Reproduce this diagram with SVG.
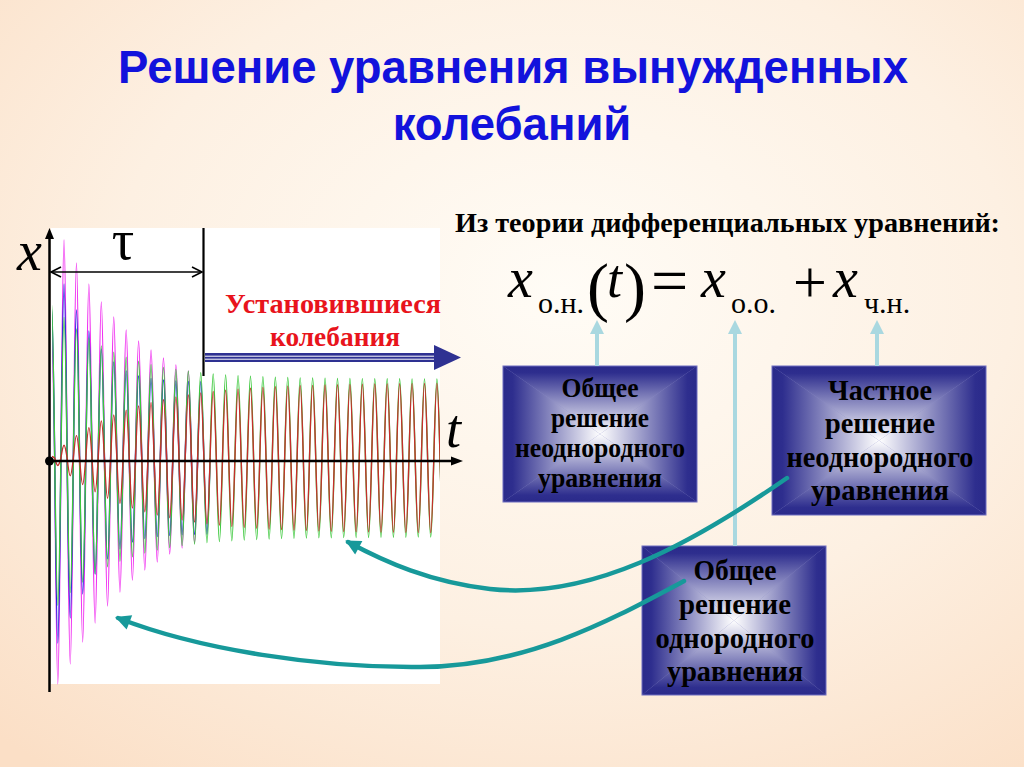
<svg xmlns="http://www.w3.org/2000/svg" width="1024" height="767" viewBox="0 0 1024 767">
<defs>
<radialGradient id="bg" cx="0.55" cy="0.38" r="0.8">
<stop offset="0" stop-color="#fffcf6"/>
<stop offset="0.55" stop-color="#fdf0e2"/>
<stop offset="1" stop-color="#fbdfc6"/>
</radialGradient>
<linearGradient id="gT" x1="0" y1="0" x2="0" y2="1"><stop offset="0" stop-color="#2a2a8a"/><stop offset="0.1" stop-color="#2e2e8e"/><stop offset="1" stop-color="#ffffff"/></linearGradient>
<linearGradient id="gB" x1="0" y1="1" x2="0" y2="0"><stop offset="0" stop-color="#2a2a8a"/><stop offset="0.1" stop-color="#2e2e8e"/><stop offset="1" stop-color="#ffffff"/></linearGradient>
<linearGradient id="gL" x1="0" y1="0" x2="1" y2="0"><stop offset="0" stop-color="#2a2a8a"/><stop offset="0.1" stop-color="#2e2e8e"/><stop offset="1" stop-color="#ffffff"/></linearGradient>
<linearGradient id="gR" x1="1" y1="0" x2="0" y2="0"><stop offset="0" stop-color="#2a2a8a"/><stop offset="0.1" stop-color="#2e2e8e"/><stop offset="1" stop-color="#ffffff"/></linearGradient>
<clipPath id="plotclip"><rect x="52" y="226" width="388" height="460"/></clipPath>
<marker id="tealhead" viewBox="0 0 10 10" refX="8" refY="5" markerWidth="3.6" markerHeight="3.4" orient="auto">
<path d="M0,0 L10,5 L0,10 z" fill="#17999a"/>
</marker>
<style>
.title{font-family:"Liberation Sans",Arial,sans-serif;font-weight:bold;font-size:45.5px;fill:#1212dc;text-anchor:middle}
.serif{font-family:"Liberation Serif","Times New Roman",serif}
.it{font-family:"Liberation Serif","Times New Roman",serif;font-style:italic}
.boxtxt{font-family:"Liberation Serif","Times New Roman",serif;font-weight:bold;fill:#000;text-anchor:middle}
.red{font-family:"Liberation Serif","Times New Roman",serif;font-weight:bold;font-size:28px;fill:#e8141c;text-anchor:middle}
.crv{fill:none;stroke-width:1.4;stroke-linejoin:round}
.lb{stroke:#a9d8e0;stroke-width:4;fill:none}
.lbh{fill:#a9d8e0}
.teal{stroke:#17999a;stroke-width:4.5;fill:none;stroke-linecap:round}
.ax{stroke:#000;fill:none}
</style>
</defs>

<rect x="0" y="0" width="1024" height="767" fill="url(#bg)"/>

<g id="title">
<text class="title" x="513" y="83">Решение уравнения вынужденных</text>
<text class="title" x="512" y="140">колебаний</text>
</g>

<g id="plot">
<rect x="51" y="228" width="389" height="456" fill="#ffffff"/>
<g clip-path="url(#plotclip)">
<path class="crv" stroke="#f030f0" d="M48.49,458 c2.64,-160 3.58,-160 6.215,0 c2.64,301.3 3.58,301.3 6.215,0 c2.64,-290.7 3.58,-290.7 6.215,0 c2.64,274.7 3.58,274.7 6.215,0 c2.64,-260 3.58,-260 6.215,0 c2.64,245.3 3.58,245.3 6.215,0 c2.64,-232 3.58,-232 6.215,0 c2.64,220 3.58,220 6.215,0 c2.64,-208 3.58,-208 6.215,0 c2.64,197.3 3.58,197.3 6.215,0 c2.64,-188 3.58,-188 6.215,0 c2.64,178.7 3.58,178.7 6.215,0 c2.64,-170.7 3.58,-170.7 6.215,0 c2.64,162.7 3.58,162.7 6.215,0 c2.64,-156 3.58,-156 6.215,0 c2.64,149.3 3.58,149.3 6.215,0 c2.64,-144 3.58,-144 6.215,0 c2.64,138.7 3.58,138.7 6.215,0 c2.64,-133.3 3.58,-133.3 6.215,0 c2.64,128 3.58,128 6.215,0 c2.64,-124 3.58,-124 6.215,0 c2.64,120 3.58,120 6.215,0 c2.64,-116 3.58,-116 6.215,0 c2.64,113.3 3.58,113.3 6.215,0"/>
<path class="crv" stroke="#2222dd" d="M48.49,458 c2.64,-200 3.58,-200 6.215,0 c2.64,246.7 3.58,246.7 6.215,0 c2.64,-232 3.58,-232 6.215,0 c2.64,213.3 3.58,213.3 6.215,0 c2.64,-197.3 3.58,-197.3 6.215,0 c2.64,181.3 3.58,181.3 6.215,0 c2.64,-169.3 3.58,-169.3 6.215,0 c2.64,154.7 3.58,154.7 6.215,0 c2.64,-145.3 3.58,-145.3 6.215,0 c2.64,134.7 3.58,134.7 6.215,0 c2.64,-128 3.58,-128 6.215,0 c2.64,121.3 3.58,121.3 6.215,0 c2.64,-116 3.58,-116 6.215,0 c2.64,112 3.58,112 6.215,0 c2.64,-109.3 3.58,-109.3 6.215,0 c2.64,107.3 3.58,107.3 6.215,0 c2.64,-106 3.58,-106 6.215,0 c2.64,104.7 3.58,104.7 6.215,0 c2.64,-104 3.58,-104 6.215,0 c2.64,103.3 3.58,103.3 6.215,0 c2.64,-102.7 3.58,-102.7 6.215,0 c2.64,102.4 3.58,102.4 6.215,0 c2.64,-102.1 3.58,-102.1 6.215,0 c2.64,101.9 3.58,101.9 6.215,0 c2.64,-101.7 3.58,-101.7 6.215,0 c2.64,101.5 3.58,101.5 6.215,0"/>
<path class="crv" stroke="#3cc83c" d="M48.49,458 c2.64,-206.7 3.58,-206.7 6.215,0 c2.64,196.4 3.58,196.4 6.215,0 c2.64,-187.5 3.58,-187.5 6.215,0 c2.64,179.3 3.58,179.3 6.215,0 c2.64,-172 3.58,-172 6.215,0 c2.64,165.5 3.58,165.5 6.215,0 c2.64,-159.6 3.58,-159.6 6.215,0 c2.64,154.3 3.58,154.3 6.215,0 c2.64,-149.5 3.58,-149.5 6.215,0 c2.64,145.1 3.58,145.1 6.215,0 c2.64,-141.2 3.58,-141.2 6.215,0 c2.64,137.6 3.58,137.6 6.215,0 c2.64,-134.4 3.58,-134.4 6.215,0 c2.64,131.6 3.58,131.6 6.215,0 c2.64,-129.1 3.58,-129.1 6.215,0 c2.64,126.7 3.58,126.7 6.215,0 c2.64,-124.5 3.58,-124.5 6.215,0 c2.64,122.7 3.58,122.7 6.215,0 c2.64,-120.9 3.58,-120.9 6.215,0 c2.64,119.5 3.58,119.5 6.215,0 c2.64,-118 3.58,-118 6.215,0 c2.64,116.8 3.58,116.8 6.215,0 c2.64,-115.7 3.58,-115.7 6.215,0 c2.64,114.7 3.58,114.7 6.215,0 c2.64,-113.7 3.58,-113.7 6.215,0 c2.64,112.9 3.58,112.9 6.215,0 c2.64,-112.1 3.58,-112.1 6.215,0 c2.64,111.5 3.58,111.5 6.215,0 c2.64,-110.9 3.58,-110.9 6.215,0 c2.64,110.4 3.58,110.4 6.215,0 c2.64,-109.9 3.58,-109.9 6.215,0 c2.64,109.5 3.58,109.5 6.215,0 c2.64,-109.1 3.58,-109.1 6.215,0 c2.64,108.7 3.58,108.7 6.215,0 c2.64,-108.3 3.58,-108.3 6.215,0 c2.64,108 3.58,108 6.215,0 c2.64,-107.7 3.58,-107.7 6.215,0 c2.64,107.5 3.58,107.5 6.215,0 c2.64,-107.3 3.58,-107.3 6.215,0 c2.64,107.1 3.58,107.1 6.215,0 c2.64,-106.9 3.58,-106.9 6.215,0 c2.64,106.8 3.58,106.8 6.215,0 c2.64,-106.7 3.58,-106.7 6.215,0 c2.64,106.5 3.58,106.5 6.215,0 c2.64,-106.4 3.58,-106.4 6.215,0 c2.64,106.3 3.58,106.3 6.215,0 c2.64,-106.1 3.58,-106.1 6.215,0 c2.64,106.1 3.58,106.1 6.215,0 c2.64,-106 3.58,-106 6.215,0 c2.64,106 3.58,106 6.215,0 c2.64,-105.9 3.58,-105.9 6.215,0 c2.64,105.9 3.58,105.9 6.215,0 c2.64,-105.7 3.58,-105.7 6.215,0 c2.64,105.7 3.58,105.7 6.215,0 c2.64,-105.7 3.58,-105.7 6.215,0 c2.64,105.6 3.58,105.6 6.215,0 c2.64,-105.6 3.58,-105.6 6.215,0 c2.64,105.6 3.58,105.6 6.215,0 c2.64,-105.5 3.58,-105.5 6.215,0 c2.64,105.5 3.58,105.5 6.215,0 c2.64,-105.5 3.58,-105.5 6.215,0 c2.64,105.5 3.58,105.5 6.215,0 c2.64,-105.3 3.58,-105.3 6.215,0 c2.64,105.3 3.58,105.3 6.215,0"/>
<path class="crv" stroke="#c4302c" d="M48.49,458 c2.64,-2.1 3.58,-2.1 6.215,0 c2.64,9.9 3.58,9.9 6.215,0 c2.64,-17.1 3.58,-17.1 6.215,0 c2.64,23.6 3.58,23.6 6.215,0 c2.64,-29.9 3.58,-29.9 6.215,0 c2.64,35.3 3.58,35.3 6.215,0 c2.64,-40.5 3.58,-40.5 6.215,0 c2.64,45.2 3.58,45.2 6.215,0 c2.64,-49.5 3.58,-49.5 6.215,0 c2.64,53.6 3.58,53.6 6.215,0 c2.64,-57.3 3.58,-57.3 6.215,0 c2.64,60.7 3.58,60.7 6.215,0 c2.64,-63.9 3.58,-63.9 6.215,0 c2.64,66.7 3.58,66.7 6.215,0 c2.64,-69.3 3.58,-69.3 6.215,0 c2.64,71.7 3.58,71.7 6.215,0 c2.64,-74 3.58,-74 6.215,0 c2.64,76.1 3.58,76.1 6.215,0 c2.64,-78 3.58,-78 6.215,0 c2.64,79.7 3.58,79.7 6.215,0 c2.64,-81.3 3.58,-81.3 6.215,0 c2.64,82.8 3.58,82.8 6.215,0 c2.64,-84.1 3.58,-84.1 6.215,0 c2.64,85.5 3.58,85.5 6.215,0 c2.64,-86.7 3.58,-86.7 6.215,0 c2.64,87.7 3.58,87.7 6.215,0 c2.64,-88.7 3.58,-88.7 6.215,0 c2.64,89.6 3.58,89.6 6.215,0 c2.64,-90.4 3.58,-90.4 6.215,0 c2.64,91.2 3.58,91.2 6.215,0 c2.64,-91.9 3.58,-91.9 6.215,0 c2.64,92.5 3.58,92.5 6.215,0 c2.64,-93.1 3.58,-93.1 6.215,0 c2.64,93.6 3.58,93.6 6.215,0 c2.64,-94.1 3.58,-94.1 6.215,0 c2.64,94.7 3.58,94.7 6.215,0 c2.64,-95.1 3.58,-95.1 6.215,0 c2.64,95.5 3.58,95.5 6.215,0 c2.64,-95.9 3.58,-95.9 6.215,0 c2.64,96.1 3.58,96.1 6.215,0 c2.64,-96.4 3.58,-96.4 6.215,0 c2.64,96.7 3.58,96.7 6.215,0 c2.64,-96.9 3.58,-96.9 6.215,0 c2.64,97.2 3.58,97.2 6.215,0 c2.64,-97.3 3.58,-97.3 6.215,0 c2.64,97.6 3.58,97.6 6.215,0 c2.64,-97.7 3.58,-97.7 6.215,0 c2.64,98 3.58,98 6.215,0 c2.64,-98.1 3.58,-98.1 6.215,0 c2.64,98.3 3.58,98.3 6.215,0 c2.64,-98.4 3.58,-98.4 6.215,0 c2.64,98.5 3.58,98.5 6.215,0 c2.64,-98.7 3.58,-98.7 6.215,0 c2.64,98.8 3.58,98.8 6.215,0 c2.64,-98.9 3.58,-98.9 6.215,0 c2.64,98.9 3.58,98.9 6.215,0 c2.64,-99.1 3.58,-99.1 6.215,0 c2.64,99.2 3.58,99.2 6.215,0 c2.64,-99.2 3.58,-99.2 6.215,0 c2.64,99.3 3.58,99.3 6.215,0 c2.64,-99.3 3.58,-99.3 6.215,0 c2.64,99.5 3.58,99.5 6.215,0 c2.64,-99.5 3.58,-99.5 6.215,0 c2.64,99.5 3.58,99.5 6.215,0"/>
</g>
<!-- axes -->
<line class="ax" x1="49.5" y1="692" x2="49.5" y2="236" stroke-width="2.5"/>
<polygon points="49.5,228 45,239 54,239" fill="#000"/>
<line class="ax" x1="49" y1="461" x2="452" y2="461" stroke-width="2.5"/>
<polygon points="463,461 451,456.5 451,465.5" fill="#000"/>
<circle cx="49.5" cy="461" r="4.5" fill="#000"/>
<text class="it" x="17" y="270" font-size="56">x</text>
<text class="it" x="446" y="447" font-size="54">t</text>
<!-- tau interval -->
<text class="serif" x="123" y="259" font-size="56" text-anchor="middle">τ</text>
<line class="ax" x1="51" y1="272" x2="202" y2="272" stroke-width="1.6"/>
<polyline class="ax" points="61,267 51,272 61,277" stroke-width="1.6"/>
<polyline class="ax" points="192,267 202,272 192,277" stroke-width="1.6"/>
<line class="ax" x1="203.5" y1="228" x2="203.5" y2="376" stroke-width="2.2"/>
<!-- steady state arrow -->
<text class="red" x="333" y="313" textLength="216" lengthAdjust="spacingAndGlyphs">Установившиеся</text>
<text class="red" x="335" y="346" textLength="130" lengthAdjust="spacingAndGlyphs">колебания</text>
<rect x="205" y="353" width="231" height="9" fill="#2e3192"/>
<line x1="205" y1="356.2" x2="436" y2="356.2" stroke="#ffffff" stroke-width="1"/>
<line x1="205" y1="359.2" x2="436" y2="359.2" stroke="#ffffff" stroke-width="1"/>
<polygon points="434,345 461,357.5 434,370" fill="#2e3192"/>
</g>

<g id="equation">
<text class="serif" x="455" y="232" font-size="28" font-weight="bold" textLength="545" lengthAdjust="spacingAndGlyphs">Из теории дифференциальных уравнений:</text>
<text class="it" x="508" y="297" font-size="56">x</text>
<text class="serif" x="538" y="313" font-size="30">о.н.</text>
<text class="serif" x="587" y="309" font-size="66">(</text>
<text class="it" x="607" y="297" font-size="54">t</text>
<text class="serif" x="624" y="309" font-size="66">)</text>
<text class="serif" x="651" y="303" font-size="66">=</text>
<text class="it" x="701" y="297" font-size="56">x</text>
<text class="serif" x="731" y="313" font-size="30">о.о.</text>
<text class="serif" x="793" y="302" font-size="60">+</text>
<text class="it" x="833" y="297" font-size="56">x</text>
<text class="serif" x="864" y="313" font-size="30">ч.н.</text>
</g>

<g id="box1" transform="translate(503,366)">
<rect width="194" height="136" fill="#8a8ac6"/>
<polygon points="0,0 194,0 97,68" fill="url(#gT)"/>
<polygon points="0,136 194,136 97,68" fill="url(#gB)"/>
<polygon points="0,0 0,136 97,68" fill="url(#gL)"/>
<polygon points="194,0 194,136 97,68" fill="url(#gR)"/>
<rect width="194" height="136" fill="none" stroke="#6c6cc0" stroke-width="1"/>
<text class="boxtxt" x="97" y="31" font-size="28" textLength="77" lengthAdjust="spacingAndGlyphs">Общее</text>
<text class="boxtxt" x="97" y="61" font-size="28" textLength="98" lengthAdjust="spacingAndGlyphs">решение</text>
<text class="boxtxt" x="97" y="91" font-size="28" textLength="170" lengthAdjust="spacingAndGlyphs">неоднородного</text>
<text class="boxtxt" x="97" y="121" font-size="28" textLength="124" lengthAdjust="spacingAndGlyphs">уравнения</text>
</g>

<g id="box2" transform="translate(772,366)">
<rect width="214" height="149" fill="#8a8ac6"/>
<polygon points="0,0 214,0 107,74.5" fill="url(#gT)"/>
<polygon points="0,149 214,149 107,74.5" fill="url(#gB)"/>
<polygon points="0,0 0,149 107,74.5" fill="url(#gL)"/>
<polygon points="214,0 214,149 107,74.5" fill="url(#gR)"/>
<rect width="214" height="149" fill="none" stroke="#6c6cc0" stroke-width="1"/>
<text class="boxtxt" x="108" y="34" font-size="30" textLength="104" lengthAdjust="spacingAndGlyphs">Частное</text>
<text class="boxtxt" x="108" y="67" font-size="30" textLength="110" lengthAdjust="spacingAndGlyphs">решение</text>
<text class="boxtxt" x="108" y="101" font-size="30" textLength="187" lengthAdjust="spacingAndGlyphs">неоднородного</text>
<text class="boxtxt" x="108" y="134" font-size="30" textLength="138" lengthAdjust="spacingAndGlyphs">уравнения</text>
</g>

<g id="box3" transform="translate(642,546)">
<rect width="184" height="149" fill="#8a8ac6"/>
<polygon points="0,0 184,0 92,74.5" fill="url(#gT)"/>
<polygon points="0,149 184,149 92,74.5" fill="url(#gB)"/>
<polygon points="0,0 0,149 92,74.5" fill="url(#gL)"/>
<polygon points="184,0 184,149 92,74.5" fill="url(#gR)"/>
<rect width="184" height="149" fill="none" stroke="#6c6cc0" stroke-width="1"/>
<text class="boxtxt" x="93" y="34" font-size="30" textLength="83" lengthAdjust="spacingAndGlyphs">Общее</text>
<text class="boxtxt" x="93" y="68" font-size="30" textLength="112" lengthAdjust="spacingAndGlyphs">решение</text>
<text class="boxtxt" x="93" y="102" font-size="30" textLength="159" lengthAdjust="spacingAndGlyphs">однородного</text>
<text class="boxtxt" x="93" y="135" font-size="30" textLength="136" lengthAdjust="spacingAndGlyphs">уравнения</text>
</g>

<g id="connectors">
<line class="lb" x1="597" y1="366" x2="597" y2="332"/>
<polygon class="lbh" points="590,334 597,320 604,334"/>
<line class="lb" x1="735" y1="546" x2="735" y2="332"/>
<polygon class="lbh" points="728,334 735,320 742,334"/>
<line class="lb" x1="877" y1="366" x2="877" y2="332"/>
<polygon class="lbh" points="870,334 877,320 884,334"/>
<path class="teal" d="M787,478 C690,545 590,600 490,589 C430,582 385,562 348,542" marker-end="url(#tealhead)"/>
<path class="teal" d="M684,581 C620,615 530,667 420,667 C320,668 200,650 118,618" marker-end="url(#tealhead)"/>
</g>
</svg>
